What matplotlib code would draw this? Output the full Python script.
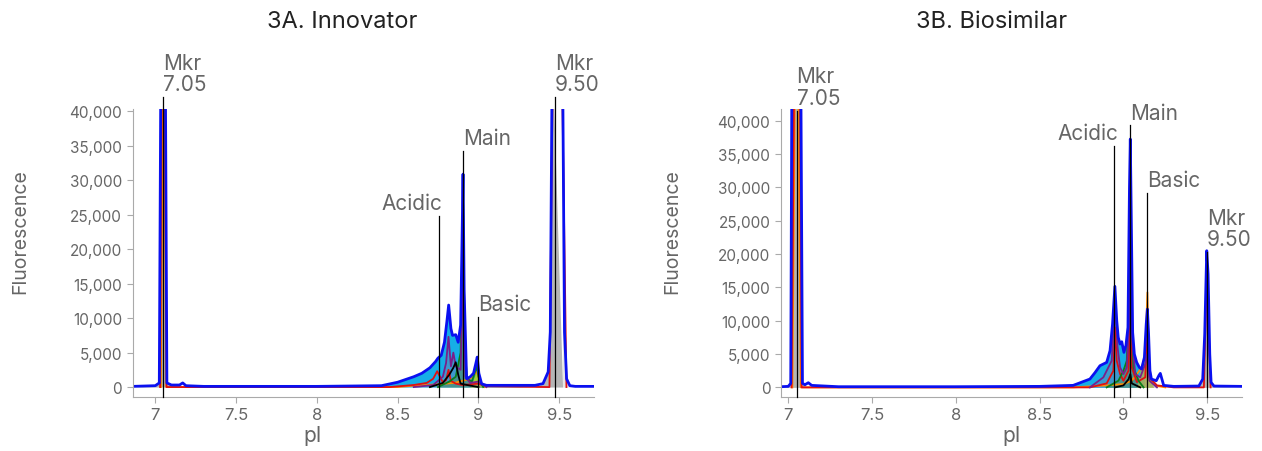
import matplotlib
matplotlib.use("Agg")
import matplotlib.pyplot as plt
import numpy as np
from matplotlib.ticker import FuncFormatter

plt.rcParams['font.family'] = ['Inter', 'DejaVu Sans']

# ---- data (pI, fluorescence) ----
INN_BLUE = [(6.86, 100), (7.00, 200), (7.025, 600), (7.035, 48000), (7.062, 48000), (7.072, 600),
            (7.10, 300), (7.15, 300), (7.17, 600), (7.19, 200), (7.30, 100), (8.00, 100), (8.40, 200),
            (8.50, 700), (8.60, 1500), (8.65, 2000), (8.70, 2800), (8.735, 3700), (8.75, 4200),
            (8.77, 4600), (8.79, 6500), (8.805, 9500), (8.816, 11900), (8.83, 8500), (8.84, 7500),
            (8.86, 7600), (8.875, 6500), (8.89, 9000), (8.898, 20000), (8.905, 30900), (8.912, 14000),
            (8.927, 1200), (8.95, 1500), (8.97, 2000), (8.985, 3500), (8.993, 4350), (9.003, 2000),
            (9.02, 480), (9.05, 250), (9.35, 250), (9.40, 500), (9.432, 2200), (9.445, 8000),
            (9.457, 48000), (9.521, 48000), (9.533, 8000), (9.546, 1200), (9.566, 200), (9.60, 100),
            (9.715, 100)]
INN_RED = [(7.03, 0), (7.04, 45000), (7.06, 45000), (7.07, 0), (8.45, 0), (8.60, 300), (8.68, 600),
           (8.72, 1200), (8.745, 2300), (8.76, 1600), (8.78, 700), (8.80, 1000), (8.815, 2500),
           (8.83, 900), (8.86, 500), (8.90, 300), (8.95, 400), (9.00, 500), (9.05, 100), (9.44, 0),
           (9.46, 45000), (9.518, 45000), (9.545, 0)]
INN_PURPLE = [(8.60, 0), (8.72, 300), (8.78, 1500), (8.80, 3500), (8.815, 7300), (8.83, 3000),
              (8.845, 5000), (8.86, 3000), (8.89, 2500), (8.905, 16000), (8.92, 1500), (8.95, 600),
              (9.00, 800), (9.05, 0)]
INN_BLACK = [(8.70, 0), (8.78, 600), (8.82, 1800), (8.845, 2800), (8.86, 3600), (8.875, 1800),
             (8.89, 500), (8.93, 300), (9.00, 0)]
INN_GREEN = [(8.75, 0), (8.82, 800), (8.86, 1500), (8.89, 5000), (8.905, 29000), (8.915, 6000),
             (8.93, 1200), (8.96, 800), (8.99, 3000), (9.00, 1500), (9.03, 0)]
INN_ORANGE = [(7.035, 0), (7.048, 45000), (7.055, 45000), (7.068, 0), (8.50, 0), (8.60, 200),
              (8.75, 400), (8.85, 600), (8.95, 1200), (8.99, 2200), (9.01, 800), (9.04, 0)]
INN_YELLOW = [(8.95, 0), (8.97, 1200), (8.99, 2500), (9.005, 1500), (9.02, 0)]

BIO_BLUE = [(6.955, 100), (7.00, 150), (7.015, 600), (7.022, 48000), (7.075, 48000), (7.085, 600),
            (7.10, 400), (7.12, 700), (7.14, 300), (7.30, 100), (8.00, 100), (8.50, 150), (8.70, 300),
            (8.80, 1250), (8.83, 2200), (8.86, 3250), (8.90, 3750), (8.92, 5500), (8.935, 9500),
            (8.949, 15150), (8.96, 10000), (8.969, 7500), (8.98, 6500), (8.99, 6850), (9.003, 5250),
            (9.015, 6300), (9.027, 9000), (9.036, 30000), (9.041, 37250), (9.047, 25000),
            (9.055, 8250), (9.065, 5000), (9.079, 3750), (9.095, 3000), (9.108, 2750), (9.125, 4500),
            (9.136, 9500), (9.143, 11750), (9.15, 8000), (9.158, 2500), (9.167, 1250), (9.196, 1000),
            (9.212, 1800), (9.22, 2100), (9.23, 1200), (9.24, 300), (9.30, 150), (9.45, 200),
            (9.473, 1250), (9.485, 8000), (9.497, 20500), (9.505, 17000), (9.515, 5000),
            (9.523, 750), (9.54, 200), (9.707, 150)]
BIO_RED = [(7.02, 0), (7.035, 45000), (7.07, 45000), (7.08, 0), (8.80, 0), (8.90, 600), (8.94, 2500),
           (8.95, 9000), (8.96, 4000), (8.98, 2000), (9.00, 1000), (9.03, 2500), (9.041, 12000),
           (9.05, 3000), (9.08, 800), (9.13, 1500), (9.143, 8000), (9.155, 1500), (9.20, 300),
           (9.30, 0), (9.48, 0), (9.495, 15000), (9.505, 12000), (9.52, 0)]
BIO_PURPLE = [(8.80, 0), (8.88, 1500), (8.93, 4000), (8.949, 13000), (8.965, 6000), (8.98, 3000),
              (9.00, 2000), (9.02, 3000), (9.035, 10000), (9.041, 16000), (9.05, 8000), (9.07, 2000),
              (9.10, 1500), (9.13, 3500), (9.143, 5000), (9.155, 1000), (9.20, 0)]
BIO_BLACK = [(8.95, 0), (9.00, 300), (9.03, 1200), (9.041, 2000), (9.05, 600), (9.10, 0)]
BIO_GREEN = [(8.90, 0), (8.97, 1000), (9.00, 2500), (9.02, 4000), (9.035, 14000), (9.041, 36000),
             (9.048, 12000), (9.06, 3000), (9.09, 1000), (9.12, 0)]
BIO_ORANGE = [(7.025, 0), (7.04, 45000), (7.06, 45000), (7.075, 0), (8.70, 0), (8.90, 300),
              (9.00, 500), (9.05, 1000), (9.08, 2000), (9.11, 3000), (9.13, 5000), (9.143, 14250),
              (9.152, 4000), (9.165, 1000), (9.20, 200), (9.25, 0)]
BIO_YELLOW = [(9.08, 0), (9.10, 2500), (9.13, 5000), (9.143, 9000), (9.16, 1500), (9.18, 0)]

# markers: label, pI, top of line, alignment
INN_MARKS = [("Mkr\n7.05", 7.05, 42100, "left"), ("Acidic", 8.754, 24800, "right"),
             ("Main", 8.906, 34300, "left"), ("Basic", 9.0, 10200, "left"),
             ("Mkr\n9.50", 9.475, 42100, "left")]
BIO_MARKS = [("Mkr\n7.05", 7.05, 41500, "left"), ("Acidic", 8.944, 36200, "right"),
             ("Main", 9.04, 39300, "left"), ("Basic", 9.143, 29200, "left"),
             ("Mkr\n9.50", 9.5, 20300, "left")]

X_TICKS = [7, 7.5, 8, 8.5, 9, 9.5]
Y_TICKS = [0, 5000, 10000, 15000, 20000, 25000, 30000, 35000, 40000]

GREY = '#666666'


def xy(points):
    a = np.array(points, dtype=float)
    return a[:, 0], a[:, 1]


def draw_panel(ax, blue, red, purple, black, green, orange, yellow, marks,
               cyan_range, grey_ranges, xlim, ylim):
    bx, by = xy(blue)
    lo, hi = cyan_range
    ax.fill_between(bx, 0, by, where=(bx >= lo) & (bx <= hi), color='#16aee6', lw=0, interpolate=True)
    for (a, b, col) in grey_ranges:
        ax.fill_between(bx, 0, by, where=(bx >= a) & (bx <= b), color=col, lw=0, interpolate=True)
    gx, gy = xy(green)
    ax.fill_between(gx, 0, gy, color='#2e9e3a', alpha=0.55, lw=0)
    yx, yy = xy(yellow)
    ax.fill_between(yx, 0, yy, color='#b5d334', alpha=0.9, lw=0)
    px, py = xy(purple)
    ax.fill_between(px, 0, py, color='#8a6fa0', alpha=0.35, lw=0)

    for pts, col in [(orange, '#ff8c00'), (red, '#e01010'), (green, '#0b7d1a'),
                     (purple, '#7a1f8a'), (black, 'black')]:
        x, y = xy(pts)
        ax.plot(x, y, color=col, lw=1.3)
    ax.plot(bx, by, color='#0a10f0', lw=2)

    for label, x, top, ha in marks:
        ax.plot([x, x], [ylim[0], top], color='black', lw=0.9, clip_on=False, zorder=5)
        dx = 3 if ha == 'right' else 0
        ax.annotate(label, (x, top), xytext=(dx, 2), textcoords='offset points',
                    ha=ha, va='bottom', fontsize=15, color=GREY, linespacing=1.1,
                    annotation_clip=False)

    ax.set_xlim(*xlim)
    ax.set_ylim(*ylim)
    ax.set_xticks(X_TICKS)
    ax.set_xticklabels([f'{t:g}' for t in X_TICKS])
    ax.set_yticks(Y_TICKS)
    ax.yaxis.set_major_formatter(FuncFormatter(lambda v, p: f'{int(v):,}'))
    for s in ['top', 'right']:
        ax.spines[s].set_visible(False)
    for s in ['left', 'bottom']:
        ax.spines[s].set_color('#aaaaaa')
    ax.tick_params(colors='#aaaaaa', labelcolor=GREY, labelsize=11, length=4)
    ax.tick_params(axis='x', labelsize=12)


fig = plt.figure(figsize=(12.62, 4.52), dpi=100)
ax1 = fig.add_axes([0.1051, 0.1201, 0.3655, 0.6365])
ax2 = fig.add_axes([0.6186, 0.1201, 0.3655, 0.6365])

draw_panel(ax1, INN_BLUE, INN_RED, INN_PURPLE, INN_BLACK, INN_GREEN, INN_ORANGE, INN_YELLOW,
           INN_MARKS, (8.40, 9.06),
           [(6.99, 7.10, '#b5b5b5'), (9.40, 9.475, '#b5b5b5'), (9.475, 9.58, '#e6e6e6')],
           (6.86, 9.715), (-1400, 40350))
draw_panel(ax2, BIO_BLUE, BIO_RED, BIO_PURPLE, BIO_BLACK, BIO_GREEN, BIO_ORANGE, BIO_YELLOW,
           BIO_MARKS, (8.60, 9.13),
           [(6.99, 7.10, '#b5b5b5'), (9.45, 9.55, '#b5b5b5')],
           (6.955, 9.707), (-1400, 41750))

for ax, lx, px in [(ax1, -0.224, 0.391), (ax2, -0.216, 0.501)]:
    ax.set_ylabel('Fluorescence', fontsize=14, color=GREY)
    ax.yaxis.set_label_coords(lx, 0.576)
    ax.set_xlabel('pI', fontsize=15, color=GREY)
    ax.xaxis.set_label_coords(px, -0.100)

fig.text(342 / 1262, 1 - 22 / 452, '3A. Innovator', ha='center', va='center', fontsize=17, color='#222222')
fig.text(992 / 1262, 1 - 22 / 452, '3B. Biosimilar', ha='center', va='center', fontsize=17, color='#222222')

fig.savefig('out.png', dpi=100)
